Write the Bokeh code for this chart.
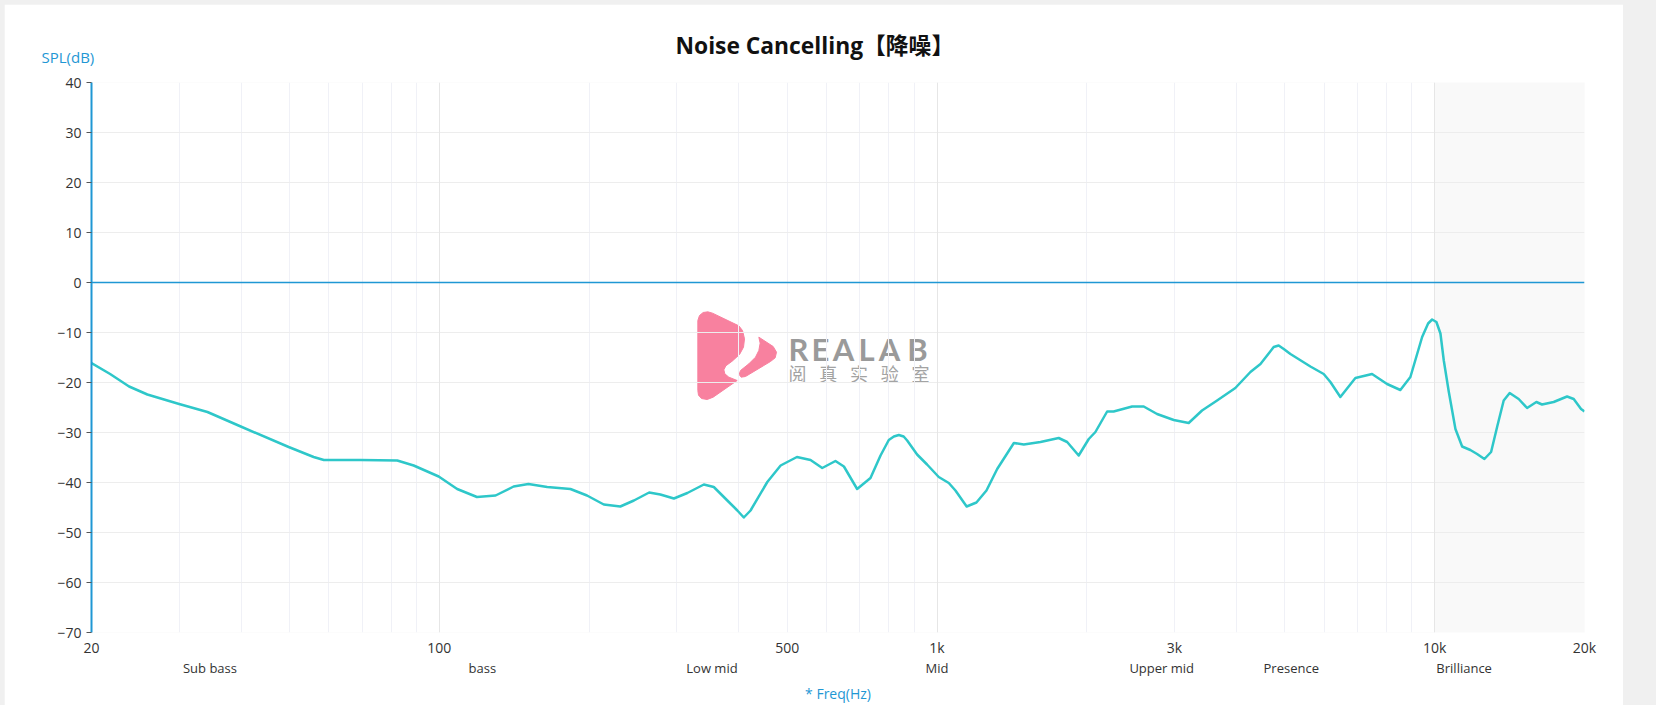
import math
from bokeh.plotting import figure
from bokeh.models import (LogAxis, FixedTicker, Grid, Span, BoxAnnotation, Title, Range1d)
from bokeh.layouts import column
from bokeh.core.properties import value
from bokeh.embed import file_html
from bokeh.resources import INLINE

# ---------------- data ----------------
freq_hz = [20, 21.8, 23.8, 25.9, 30.0, 34.2, 39.9, 49.8, 55.9, 58.6, 69.4, 82.3, 88.8, 99.7,
           108.6, 119, 129.7, 141, 151, 164.7, 183.4, 198, 214, 231, 246, 264, 278, 296, 315,
           340, 356, 379, 397, 409, 422, 456, 485, 523, 557, 588, 625, 650, 691, 735, 770,
           800, 819, 838, 857, 871, 912, 955, 1008, 1056, 1089, 1147, 1200, 1257, 1321, 1427,
           1494, 1614, 1756, 1826, 1926, 2018, 2081, 2197, 2264, 2466, 2602, 2768, 2990, 3204,
           3408, 3654, 3976, 4263, 4466, 4748, 4858, 4974, 5130, 5627, 5984, 6172, 6463, 6929,
           7484, 8022, 8531, 8937, 9436, 9700, 9882, 10080, 10270, 10430, 10672, 11008, 11354,
           11794, 12168, 12586, 12982, 13348, 13762, 14148, 14750, 15336, 16008, 16432,
           17340, 18452, 19026, 19684, 20000]
spl_db = [-16.1, -18.3, -20.8, -22.4, -24.3, -25.9, -28.8, -32.9, -34.9, -35.5, -35.5, -35.6,
          -36.6, -38.8, -41.3, -42.9, -42.6, -40.8, -40.3, -40.9, -41.3, -42.6, -44.4, -44.8,
          -43.6, -42.0, -42.4, -43.2, -42.1, -40.4, -40.9, -43.6, -45.6, -47.0, -45.6, -39.9,
          -36.6, -34.9, -35.5, -37.1, -35.7, -36.8, -41.3, -39.1, -34.6, -31.5, -30.8, -30.5,
          -30.8, -31.6, -34.4, -36.4, -38.9, -40.1, -41.6, -44.8, -44.0, -41.6, -37.3, -32.1,
          -32.4, -31.9, -31.1, -31.9, -34.6, -31.3, -29.9, -25.8, -25.8, -24.8, -24.8, -26.3,
          -27.5, -28.1, -25.6, -23.6, -21.1, -17.9, -16.3, -12.9, -12.6, -13.3, -14.3, -16.8,
          -18.3, -19.9, -22.9, -19.1, -18.3, -20.3, -21.5, -18.9, -10.9, -8.2, -7.4, -7.9,
          -10.2, -15.6, -21.8, -29.3, -32.8, -33.5, -34.3, -35.3, -33.9, -28.9, -23.6, -22.1,
          -23.3, -25.1, -23.9, -24.4, -23.9, -22.8, -23.3, -25.3, -25.8]

x_tick_values = [20, 100, 500, 1000, 3000, 10000, 20000]
x_tick_labels = ["20", "100", "500", "1k", "3k", "10k", "20k"]
band_names = ["Sub bass", "bass", "Low mid", "Mid", "Upper mid", "Presence", "Brilliance"]
band_centers = [34.6, 122, 353, 1000, 2828, 5150, 11460]
y_ticks = [-70, -60, -50, -40, -30, -20, -10, 0, 10, 20, 30, 40]
brilliance_start = 10000

title_text = "Noise Cancelling【降噪】"
y_name = "SPL(dB)"
x_name = "* Freq(Hz)"
wm_letters = ["R", "E", "A", "L", "A", "B"]
wm_chars = ["阅", "真", "实", "验", "室"]

# ---------------- layout / style ----------------
PAD = 4                      # grey page strip above / left of the white card
W, H = 1623 - PAD, 705 - PAD
BL, BR, BT, BB = 91 - PAD, 39, 82 - PAD, 73
X0, X1, Y0, Y1 = 20, 20000, -70, 40
FONT = "Open Sans, Noto Sans CJK SC"
BLUE = "#1f97d4"
TEAL = "#2ec7c9"

p = figure(width=W, height=H, x_axis_type="log",
           x_range=Range1d(X0, X1), y_range=Range1d(Y0, Y1),
           output_backend="svg", toolbar_location=None,
           min_border_left=BL, min_border_right=BR, min_border_top=BT, min_border_bottom=BB)
p.margin = (PAD, 0, 0, PAD)
p.outline_line_color = None
p.background_fill_color = "white"
p.border_fill_color = "white"

FW = W - BL - BR
FH = H - BT - BB
def px2data(xs, ys):
    # page pixel -> data, for the decorative watermark only
    fx = [X0 * 10 ** ((x - PAD - BL) / FW * math.log10(X1 / X0)) for x in xs]
    fy = [Y1 - (y - PAD - BT) / FH * (Y1 - Y0) for y in ys]
    return fx, fy

# shaded brilliance band
p.add_layout(BoxAnnotation(left=brilliance_start, fill_color="#f9f9f9", fill_alpha=1.0,
                           line_color=None, level="image"))

# grids
minor_grid = [m * 10 ** d for d in range(1, 5) for m in range(1, 10) if X0 <= m * 10 ** d <= X1]
p.xgrid.ticker = FixedTicker(ticks=minor_grid)
p.xgrid.grid_line_color = "#f0f1f7"
p.add_layout(Grid(dimension=0, ticker=FixedTicker(ticks=[100, 1000, 10000]),
                  grid_line_color="#e6e6e6", grid_line_width=1))
p.ygrid.ticker = FixedTicker(ticks=y_ticks)
p.ygrid.grid_line_color = "#ededed"

# main x axis
ax = p.xaxis[0]
ax.ticker = FixedTicker(ticks=x_tick_values)
ax.major_label_overrides = {v: l for v, l in zip(x_tick_values, x_tick_labels)}
ax.axis_line_color = None
ax.major_tick_line_color = None
ax.minor_tick_line_color = None
ax.major_tick_out = 0
ax.major_tick_in = 0
ax.major_label_standoff = 5
ax.major_label_text_font = FONT
ax.major_label_text_font_size = "14px"
ax.major_label_text_color = "#333333"

# band-name axis + x name
band_ax = LogAxis(ticker=FixedTicker(ticks=band_centers),
                  major_label_overrides={v: l for v, l in zip(band_centers, band_names)},
                  axis_line_color=None, major_tick_line_color=None, minor_tick_line_color=None,
                  major_tick_out=0, major_tick_in=0, major_label_standoff=-1,
                  major_label_text_font=FONT, major_label_text_font_size="13px",
                  major_label_text_color="#333333",
                  axis_label=x_name, axis_label_standoff=4, axis_label_text_font=FONT,
                  axis_label_text_font_size="14px", axis_label_text_font_style="normal",
                  axis_label_text_color=BLUE)
p.add_layout(band_ax, "below")

# y axis
yax = p.yaxis[0]
yax.ticker = FixedTicker(ticks=y_ticks)
yax.axis_line_color = BLUE
yax.axis_line_width = 2
yax.major_tick_out = 5
yax.major_tick_in = 0
yax.major_tick_line_color = "#555555"
yax.minor_tick_line_color = None
yax.major_label_standoff = 5
yax.major_label_text_font = FONT
yax.major_label_text_font_size = "14px"
yax.major_label_text_color = "#333333"

# zero line
p.add_layout(Span(location=0, dimension="width", line_color=BLUE, line_width=1.5))

# watermark (decoration, below grid)
def logo_pts(pts):
    xs = [690 + a / 3 for a, b in pts]
    ys = [300 + b / 3 for a, b in pts]
    return px2data(xs, ys)
left_piece = [(22, 60), (27, 45), (38, 36), (52, 34), (66, 38), (145, 76), (156, 90), (162, 115),
              (159, 140), (147, 162), (125, 182), (106, 196), (100, 208), (103, 220), (115, 230),
              (140, 240), (68, 290), (50, 297), (33, 294), (24, 284), (22, 270)]
right_piece = [(205, 110), (248, 138), (258, 155), (254, 172), (240, 183), (165, 228), (152, 230),
               (146, 222), (150, 210), (175, 190), (195, 170), (205, 150), (209, 128)]
for piece in (left_piece, right_piece):
    lx, ly = logo_pts(piece)
    p.patch(lx, ly, fill_color="#f8819f", line_color="#f8819f", line_width=1, level="image")

lx, ly = px2data([798, 820, 843, 866, 889, 917], [348] * 6)
p.text(x=lx, y=ly, text=wm_letters, text_font=value("Lato"), text_font_style="bold",
       text_font_size="31px", text_color="#9a9a9a", text_align="center",
       text_baseline="middle", level="image")
cx, cy = px2data([797, 827.75, 858.5, 889.25, 920], [372] * 5)
p.text(x=cx, y=cy, text=wm_chars, text_font=value("Noto Sans CJK SC"),
       text_font_size="18px", text_color="#a3a3a3", text_align="center",
       text_baseline="middle", level="image")

# curve
p.line(freq_hz, spl_db, line_color=TEAL, line_width=2.5, line_join="round")

# titles
spl_title = Title(text=y_name, align="left", offset=-50, standoff=31,
                  text_font=FONT, text_font_size="15px", text_font_style="normal",
                  text_color=BLUE)
p.add_layout(spl_title, "above")
p.title.text = title_text
p.title.align = "left"
p.title.offset = 584
p.title.standoff = -62
p.title.text_font = FONT
p.title.text_font_size = "22.8px"
p.title.text_font_style = "bold"
p.title.text_color = "#111111"

page = column(p, width=1656, height=705, styles={"background-color": "#f0f0f0"})
open("out.html", "w").write(file_html(page, INLINE))
